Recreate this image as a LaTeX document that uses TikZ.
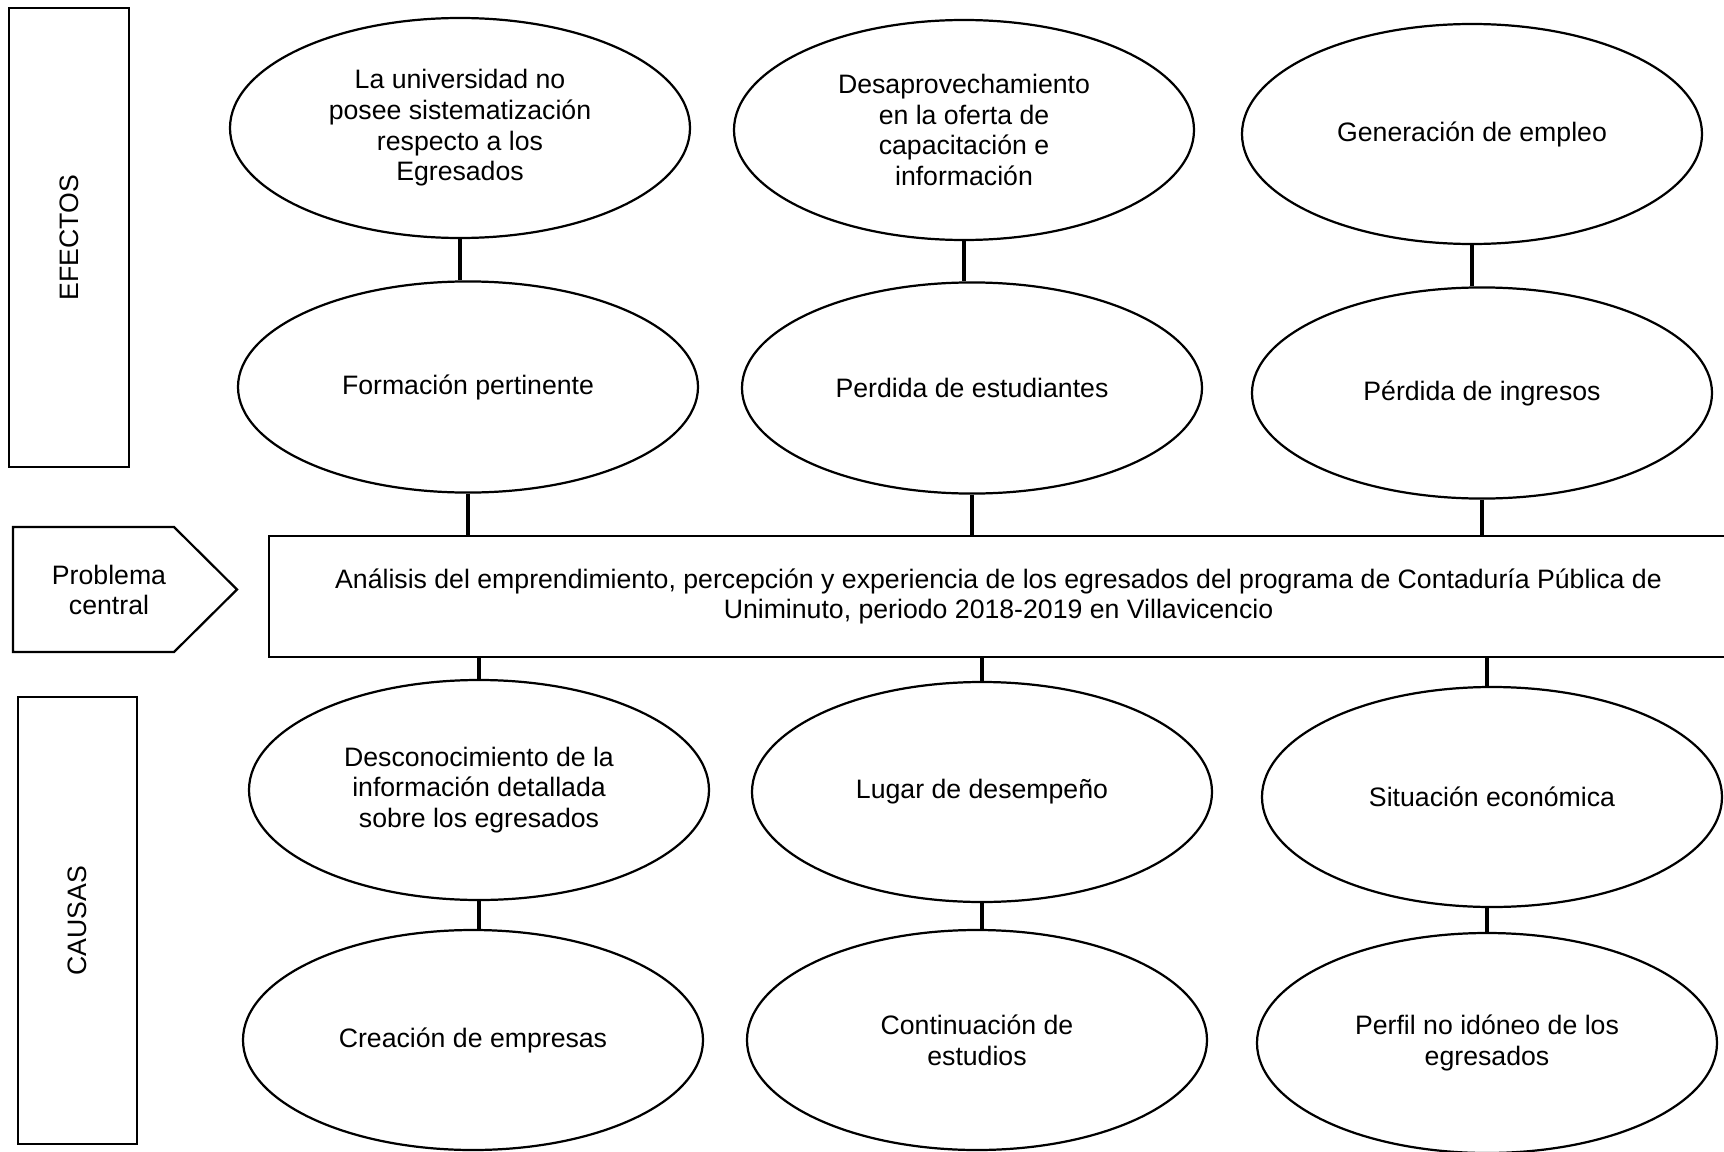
\documentclass[tikz,border=0pt]{standalone}
\usepackage{fontspec}
\setmainfont{Liberation Sans}
\usepackage{tikz}
\usetikzlibrary{shapes.geometric}
\tikzset{
  ovalo/.style = {ellipse, draw, line width = 1pt, inner sep = 0pt, align = center,
                  minimum width = 207pt, minimum height = 99pt},
  ovalob/.style = {ovalo, minimum height = 95pt},
  caja/.style = {draw, line width = 1pt, inner sep = 0pt, align = center},
  enlace/.style = {line width = 1.8pt}
}

\begin{document}
\begin{tikzpicture}[x = 0.45pt, y = -0.45pt, every node/.style = {font = \fontsize{12}{13.8}\selectfont}]
			\useasboundingbox (0,0) rectangle (1724,1152);
			\clip (0,0) rectangle (1724,1152);
			% side labels
			\node (efe) at (69,237.5) [caja, rotate = 90, minimum width = 206.5pt, minimum height = 54pt] {EFECTOS};
			\node (cau) at (77.5,920.5) [caja, rotate = 90, minimum width = 201pt, minimum height = 53.5pt] {CAUSAS};
			\draw[line width = 1pt] (13,527) -- (174,527) -- (237,589.5) -- (174,652) -- (13,652) -- cycle;
			\node (prob) at (109,590) [align = center] {Problema\\central};
			% central problem
			\node (cen) at (998.5,596.5) [caja, minimum width = 656.5pt, minimum height = 54.5pt] {An\'alisis del emprendimiento, percepci\'on y experiencia de los egresados del programa de Contadur\'ia P\'ublica de\\Uniminuto, periodo 2018-2019 en Villavicencio};
			% effects
			\node (e1) at (460,128) [ovalo] {La universidad no\\posee sistematizaci\'on\\respecto a los\\Egresados};
			\node (e2) at (964,130) [ovalo] {Desaprovechamiento\\en la oferta de\\capacitaci\'on e\\informaci\'on};
			\node (e3) at (1472,134) [ovalo] {Generaci\'on de empleo};
			\node (e4) at (468,387) [ovalob] {Formaci\'on pertinente};
			\node (e5) at (972,388) [ovalob] {Perdida de estudiantes};
			\node (e6) at (1482,393) [ovalob] {P\'erdida de ingresos};
			% causes
			\node (c1) at (479,790) [ovalo] {Desconocimiento de la\\informaci\'on detallada\\sobre los egresados};
			\node (c2) at (982,792) [ovalo] {Lugar de desempe\~no};
			\node (c3) at (1492,797) [ovalo] {Situaci\'on econ\'omica};
			\node (c4) at (473,1040) [ovalo] {Creaci\'on de empresas};
			\node (c5) at (977,1040) [ovalo] {Continuaci\'on de\\estudios};
			\node (c6) at (1487,1043) [ovalo] {Perfil no id\'oneo de los\\egresados};
			% links
			\draw[enlace] (e1.south) -- (e1.south |- e4.north);
			\draw[enlace] (e2.south) -- (e2.south |- e5.north);
			\draw[enlace] (e3.south) -- (e3.south |- e6.north);
			\draw[enlace] (e4.south) -- (e4.south |- cen.north);
			\draw[enlace] (e5.south) -- (e5.south |- cen.north);
			\draw[enlace] (e6.south) -- (e6.south |- cen.north);
			\draw[enlace] (c1.north |- cen.south) -- (c1.north);
			\draw[enlace] (c2.north |- cen.south) -- (c2.north);
			\draw[enlace] (c6.north |- cen.south) -- (c6.north |- c3.north);
			\draw[enlace] (c1.south) -- (c1.south |- c4.north);
			\draw[enlace] (c2.south) -- (c2.south |- c5.north);
			\draw[enlace] (c6.north |- c3.south) -- (c6.north);
\end{tikzpicture}
\end{document}
